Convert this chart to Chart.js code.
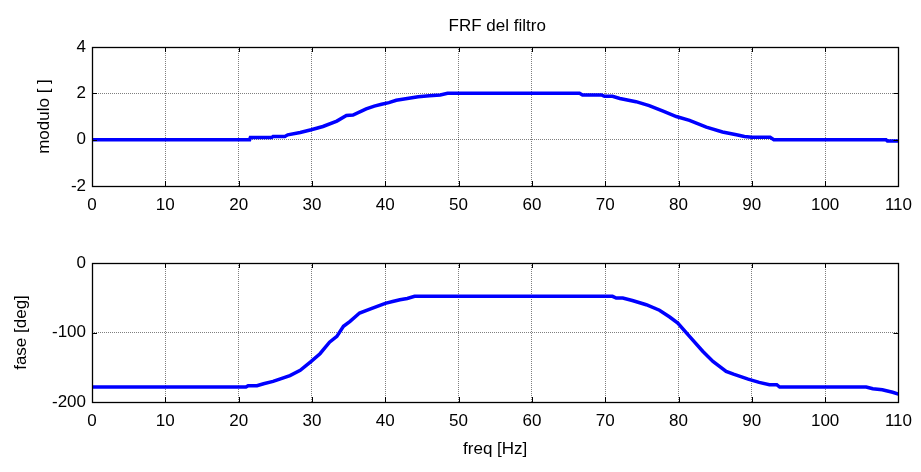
<!DOCTYPE html>
<html>
<head>
<meta charset="utf-8">
<script src="https://cdn.jsdelivr.net/npm/chart.js@4/dist/chart.umd.min.js"></script>
<style>
  html, body { margin: 0; padding: 0; background: #ffffff; }
  #wrap { position: relative; width: 921px; height: 472px; background: #ffffff; }
  .pane { position: absolute; left: 0; width: 921px; height: 236px; }
  #p1 { top: 0; }
  #p2 { top: 236px; }
</style>
</head>
<body>
<div id="wrap">
  <div class="pane" id="p1"><canvas id="c1" width="921" height="236"></canvas></div>
  <div class="pane" id="p2"><canvas id="c2" width="921" height="236"></canvas></div>
</div>
<script>
// ---- data ----
const chartTitle = "FRF del filtro";
const xLabel = "freq [Hz]";
const yLabelTop = "modulo [ ]";
const yLabelBottom = "fase [deg]";

const modFreq = [0, 21.5, 21.6, 24.5, 24.7, 26.3, 26.7, 28.4, 29.9, 31.5,
                 33.4, 34.7, 35.6, 37.4, 38.5, 39.5, 40.5, 41.5, 43, 44.5,
                 46, 47.5, 48.5, 66.5, 66.9, 69.5, 69.9, 71, 72, 74.2,
                 76, 77.9, 79.7, 81.5, 83.8, 86, 87.9, 89, 90, 92.5,
                 93, 108.3, 108.5, 110];
const modulo = [0, 0, 0.09, 0.09, 0.14, 0.14, 0.21, 0.31, 0.43, 0.57,
                0.8, 1.04, 1.06, 1.33, 1.45, 1.53, 1.6, 1.7, 1.78, 1.85,
                1.9, 1.93, 2.0, 2.0, 1.93, 1.93, 1.87, 1.87, 1.78, 1.64,
                1.47, 1.23, 1.0, 0.83, 0.54, 0.33, 0.21, 0.14, 0.1, 0.1,
                0, 0, -0.06, -0.06];

const phaseFreq = [0, 21, 21.3, 22.5, 23.4, 24.7, 25.6, 27, 28.4, 29.9,
                   31.1, 32.4, 33.4, 34.3, 35.2, 36.5, 38, 39, 40, 41,
                   42, 43, 44, 71, 71.5, 72.4, 73.7, 75.6, 77.4, 78.8,
                   79.9, 81.5, 83.3, 84.7, 86.5, 87.5, 88.5, 89.5, 91, 92.4,
                   93.4, 93.8, 105.6, 106.5, 107.8, 109.2, 110];
const phase = [-178.4, -178.4, -176.5, -176.5, -173.7, -170.3, -167, -162, -154.5, -141.6,
               -130.5, -114, -105.6, -91, -84, -72, -66, -62, -58, -55.5,
               -53, -51, -48, -48, -50.4, -50.4, -54, -60, -68, -77.7,
               -86.4, -105.6, -127, -141.6, -156, -160, -163.5, -167, -171.8, -175,
               -175, -178.4, -178.4, -181, -182.3, -186, -188.6];

const xTicks = {min: 0, max: 110, step: 10};
const yTicksTop = {min: -2, max: 4, step: 2};
const yTicksBottom = {min: -200, max: 0, step: 100};

// ---- styling ----
const FONT = "'Liberation Sans', Arial, sans-serif";
const LINE_BLUE = "#0000ff";
const GRID = "rgba(0,0,0,0.5)";

// box + inward ticks (MATLAB style) and optional title
const matlabAxes = {
  id: 'matlabAxes',
  afterDraw(chart, args, opts) {
    const {ctx, chartArea: a, scales} = chart;
    ctx.save();
    ctx.strokeStyle = '#000';
    ctx.lineWidth = 1;
    ctx.setLineDash([]);
    const L = 5;
    ctx.beginPath();
    scales.x.ticks.forEach(t => {
      const px = Math.round(scales.x.getPixelForValue(t.value)) + 0.5;
      ctx.moveTo(px, a.bottom); ctx.lineTo(px, a.bottom - L);
      ctx.moveTo(px, a.top); ctx.lineTo(px, a.top + L);
    });
    scales.y.ticks.forEach(t => {
      const py = Math.round(scales.y.getPixelForValue(t.value)) + 0.5;
      ctx.moveTo(a.left, py); ctx.lineTo(a.left + L, py);
      ctx.moveTo(a.right, py); ctx.lineTo(a.right - L, py);
    });
    ctx.stroke();
    ctx.lineWidth = 1.3;
    ctx.strokeRect(Math.round(a.left) + 0.5, Math.round(a.top) + 0.5,
                   Math.round(a.right - a.left), Math.round(a.bottom - a.top));
    if (opts && opts.title) {
      ctx.fillStyle = '#000';
      ctx.font = "17px " + FONT;
      ctx.textAlign = 'center';
      ctx.textBaseline = 'alphabetic';
      ctx.fillText(opts.title, (a.left + a.right) / 2 + 2, 31);
    }
    ctx.restore();
  }
};

function makeChart(canvasId, xs, ys, yt, yTitle, opt) {
  return new Chart(document.getElementById(canvasId), {
    type: 'line',
    data: {
      datasets: [{
        data: xs.map((f, i) => ({x: f, y: ys[i]})),
        borderColor: LINE_BLUE,
        borderWidth: 3.5,
        pointRadius: 0,
        tension: 0,
        fill: false
      }]
    },
    options: {
      responsive: false,
      animation: false,
      devicePixelRatio: 1,
      layout: {padding: {top: opt.padTop, right: 22, left: 0, bottom: 0}},
      plugins: {
        legend: {display: false},
        tooltip: {enabled: false},
        title: {display: false},
        matlabAxes: {title: opt.title || null}
      },
      scales: {
        x: {
          type: 'linear',
          min: xTicks.min, max: xTicks.max,
          afterFit: s => { s.height = opt.xHeight; },
          ticks: {stepSize: xTicks.step, autoSkip: false, maxRotation: 0,
                  color: '#000', font: {family: FONT, size: 17}, padding: opt.xTickPad},
          grid: {color: GRID, lineWidth: 1, drawTicks: false},
          border: {display: false, dash: [1, 1]},
          title: {display: !!opt.xTitle, text: opt.xTitle || '', color: '#000',
                  font: {family: FONT, size: 17}, padding: {top: 0, bottom: 12}}
        },
        y: {
          type: 'linear',
          min: yt.min, max: yt.max,
          afterFit: s => { s.width = 92; },
          ticks: {stepSize: yt.step, autoSkip: false, color: '#000',
                  font: {family: FONT, size: 17}, padding: 6},
          grid: {color: GRID, lineWidth: 1, drawTicks: false},
          border: {display: false, dash: [1, 1]},
          title: {display: true, text: yTitle, color: '#000',
                  font: {family: FONT, size: 17}, padding: {top: opt.yTitlePad, bottom: 0}}
        }
      }
    },
    plugins: [matlabAxes]
  });
}

makeChart('c1', modFreq, modulo, yTicksTop, yLabelTop,
  {padTop: 47, xHeight: 50, xTickPad: 9, yTitlePad: 34, title: chartTitle});
makeChart('c2', phaseFreq, phase, yTicksBottom, yLabelBottom,
  {padTop: 27, xHeight: 70, xTickPad: 9, yTitlePad: 11, xTitle: xLabel});
</script>
</body>
</html>
